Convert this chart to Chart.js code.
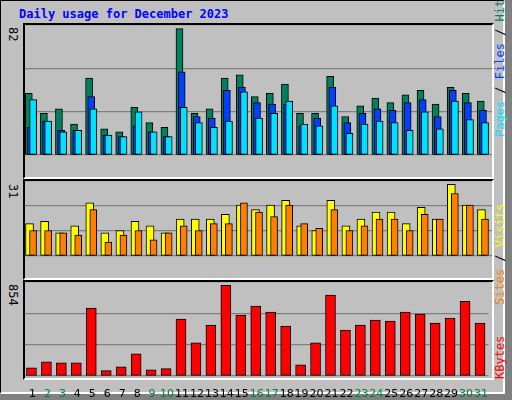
<!DOCTYPE html>
<html><head><meta charset="utf-8">
<script src="https://cdn.jsdelivr.net/npm/chart.js@4"></script>
<style>
body{margin:0;width:512px;height:400px;background:#808080;position:relative;overflow:hidden;font-family:"DejaVu Sans Mono",monospace}
#frame{position:absolute;left:0;top:0;width:505px;height:394px;background:#C0C0C0;border:1px solid #000;border-right:2px solid #fff;border-bottom:2px solid #fff;box-sizing:border-box}
.panel{position:absolute;border-top:2px solid #000;border-left:2px solid #000;border-right:2px solid #fff;border-bottom:2px solid #fff;box-sizing:content-box}
.rot{position:absolute;transform-origin:0 0;transform:rotate(90deg);white-space:nowrap;font-size:12px}
.rotr{position:absolute;transform-origin:0 0;transform:rotate(-90deg);white-space:nowrap;font-size:12px;line-height:13px}
canvas{display:block}
</style></head><body>
<div id="frame"></div>
<div style="position:absolute;left:19px;top:7px;color:#0000FF;font-weight:bold;font-size:12px">Daily usage for December 2023</div>
<div class="panel" style="left:23px;top:23px;width:467px;height:152px"><canvas id="c1" width="467" height="152"></canvas></div>
<div class="panel" style="left:23px;top:179px;width:467px;height:97px"><canvas id="c2" width="467" height="97"></canvas></div>
<div class="panel" style="left:23px;top:280px;width:467px;height:96px"></div>
<div style="position:absolute;left:25px;top:282px"><canvas id="c3" width="467" height="116"></canvas></div>
<div class="rot" style="left:20px;top:27px">82</div>
<div class="rot" style="left:20px;top:184px">31</div>
<div class="rot" style="left:20px;top:284px">854</div>
<div class="rotr" style="left:494px;top:137px"><span style="color:#00E0FF">Pages</span> / <span style="color:#0040FF">Files</span> / <span style="color:#00805C">Hits</span></div>
<div class="rotr" style="left:494px;top:305px"><span style="color:#FF8000">Sites</span> / <span style="color:#FFFF00">Visits</span></div>
<div class="rotr" style="left:494px;top:379px"><span style="color:#FF0000">KBytes</span></div>
<script>
const days=[1,2,3,4,5,6,7,8,9,10,11,12,13,14,15,16,17,18,19,20,21,22,23,24,25,26,27,28,29,30,31];
const weekend=[2,3,9,10,16,17,23,24,30,31];
const hits=[40,27,30,20,50,17,15,31,21,18,82,27,30,50,52,38,40,46,27,27,51,25,32,37,34,39,42,33,44,40,35];
const files=[18,22,16,16,38,13,12,19,15,12,54,25,24,42,44,34,33,33,19,24,44,21,27,30,29,34,36,25,42,34,29];
const pages=[36,22,15,16,30,13,12,28,15,12,31,21,18,22,41,24,27,35,20,19,32,14,20,22,21,16,28,17,35,23,21];
const visits=[14,15,10,13,23,10,11,15,13,10,16,16,16,18,22,20,22,24,13,11,24,13,16,19,19,14,21,16,31,22,20];
const sites=[11,11,10,9,20,6,9,11,7,10,13,11,14,14,23,19,17,22,14,12,20,11,13,16,16,11,18,16,27,22,16];
const kbytes=[78,134,125,125,639,50,87,209,59,69,536,312,480,854,574,658,602,471,106,312,761,433,480,527,517,602,583,499,545,704,499];
const px=1/15.05;
Chart.defaults.animation=false;
function ds(vals,off,color,w,order){return{data:vals.map((v,i)=>({x:days[i]+off*px,y:v})),backgroundColor:color,borderColor:'#000',borderWidth:1,barThickness:w,grouped:false,borderSkipped:false,order:order}}
function opts(max,showX){return{responsive:false,maintainAspectRatio:false,layout:{padding:0},
plugins:{legend:{display:false},tooltip:{enabled:false}},
scales:{x:{type:'linear',min:0.5,max:31.5,offset:false,display:showX,grid:{display:false},border:{display:false},
afterBuildTicks:s=>{s.ticks=days.map(d=>({value:d}))},
ticks:{autoSkip:false,maxRotation:0,padding:4,font:{family:'DejaVu Sans',size:11},
color:c=>(c.tick&&weekend.includes(c.tick.value))?'#008040':'#000'},
afterFit:s=>{s.height=22}},
y:{min:0,max:max,display:true,ticks:{display:false,stepSize:max/3},grid:{color:'#808080',lineWidth:1.3,drawTicks:false},border:{display:false},afterFit:s=>{s.width=0}}}}}
new Chart('c1',{type:'bar',data:{datasets:[ds(hits,-3.7,'#00805C',7,2),ds(files,-1.5,'#0040FF',7,1),ds(pages,0.6,'#00E0FF',7,0)]},options:opts(84.4,false)});
new Chart('c2',{type:'bar',data:{datasets:[ds(visits,-3,'#FFFF00',8,1),ds(sites,0.5,'#FF8000',7,0)]},options:opts(32.4,false)});
new Chart('c3',{type:'bar',data:{datasets:[ds(kbytes,-1,'#FF0000',10,0)]},options:opts(885,true)});
</script></body></html>
